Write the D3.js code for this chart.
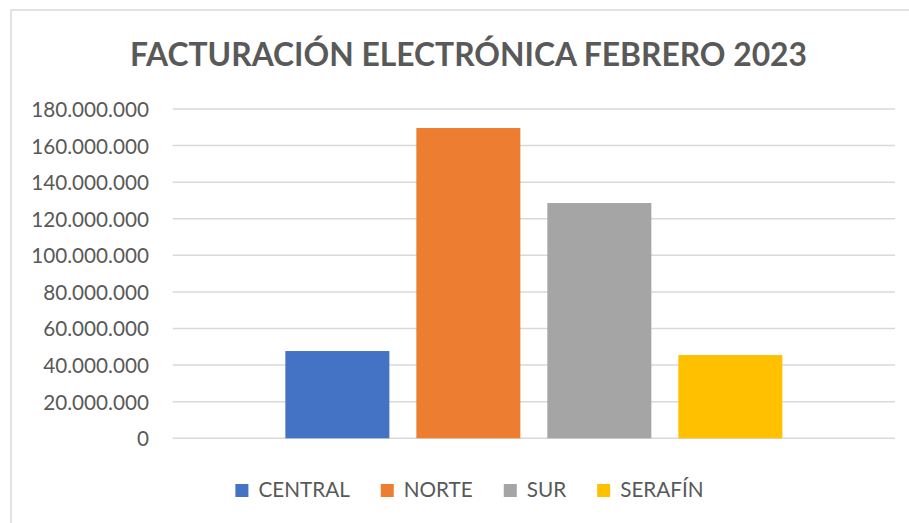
<!DOCTYPE html>
<html>
<head>
<meta charset="utf-8">
<script src="https://cdn.jsdelivr.net/npm/d3@7"></script>
<style>
	html, body { margin: 0; padding: 0; background: #fff; }
	svg { display: block; font-family: Lato, "Open Sans", sans-serif; }
</style>
</head>
<body>
<div id="vis"></div>
<script>
const width = 909;
const height = 523;

const title = "FACTURACIÓN ELECTRÓNICA FEBRERO 2023";
const sucursales = ["CENTRAL", "NORTE", "SUR", "SERAFÍN"];
const ventas = [47700000, 169600000, 128600000, 45500000];
const colores = ["#4472C4", "#ED7D31", "#A5A5A5", "#FFC000"];
const yTicks = [0, 20000000, 40000000, 60000000, 80000000, 100000000, 120000000, 140000000, 160000000, 180000000];

const plot = { left: 172.7, right: 895, top: 109, bottom: 438.3 };
const textColor = "#595959";
const gridColor = "#D9D9D9";

const svg = d3.select("#vis")
	.append("svg")
		.attr("width", width)
		.attr("height", height);

// chart area border (only top and left visible in the capture)
svg.append("rect")
	.attr("x", 11)
	.attr("y", 10)
	.attr("width", 940)
	.attr("height", 560)
	.attr("fill", "#fff")
	.attr("stroke", gridColor)
	.attr("stroke-width", 1.5);

svg.append("text")
	.attr("x", 468.5)
	.attr("y", 66)
	.attr("text-anchor", "middle")
	.attr("font-size", 32.6)
	.attr("font-weight", "bold")
	.attr("fill", textColor)
	.attr("textLength", 677)
	.attr("lengthAdjust", "spacingAndGlyphs")
	.text(title);

const y = d3.scaleLinear()
	.domain([0, 180000000])
	.range([plot.bottom, plot.top]);

const x = d3.scaleBand()
	.domain(sucursales)
	.range([plot.left, plot.right])
	.paddingInner(0.206)
	.paddingOuter(0.86);

const fmt = d => d3.format(",")(d).replace(/,/g, ".");

// gridlines
svg.append("g")
	.selectAll("line")
	.data(yTicks)
	.enter()
	.append("line")
		.attr("x1", plot.left)
		.attr("x2", plot.right)
		.attr("y1", d => y(d))
		.attr("y2", d => y(d))
		.attr("stroke", gridColor)
		.attr("stroke-width", 1.5);

// y axis labels
const yAxis = svg.append("g")
	.attr("transform", `translate(149,0)`)
	.call(d3.axisLeft(y).tickValues(yTicks).tickFormat(fmt).tickSize(0).tickPadding(0));
yAxis.select(".domain").remove();
yAxis.selectAll("text")
	.attr("font-family", "Lato, sans-serif")
	.attr("font-size", 20.7)
	.attr("fill", textColor)
	.attr("dy", "0.36em");

// bars
svg.append("g")
	.selectAll("rect")
	.data(sucursales)
	.enter()
	.append("rect")
		.attr("x", d => x(d))
		.attr("width", x.bandwidth())
		.attr("y", (d, i) => y(ventas[i]))
		.attr("height", (d, i) => y(0) - y(ventas[i]))
		.attr("fill", (d, i) => colores[i]);

// legend
const legend = svg.append("g");
const items = legend.selectAll("g")
	.data(sucursales)
	.enter()
	.append("g");

items.append("rect")
	.attr("width", 13)
	.attr("height", 13)
	.attr("y", 484)
	.attr("fill", (d, i) => colores[i]);

items.append("text")
	.attr("x", 23)
	.attr("y", 497.3)
	.attr("font-size", 20.7)
	.attr("fill", textColor)
	.text(d => d);

let offset = 0;
const pos = [];
items.each(function () {
	const w = d3.select(this).select("text").node().getComputedTextLength();
	pos.push(offset);
	offset += 23 + w + 31;
});
const total = offset - 31;
const start = 469.5 - total / 2;
items.attr("transform", (d, i) => `translate(${start + pos[i]},0)`);
</script>
</body>
</html>
